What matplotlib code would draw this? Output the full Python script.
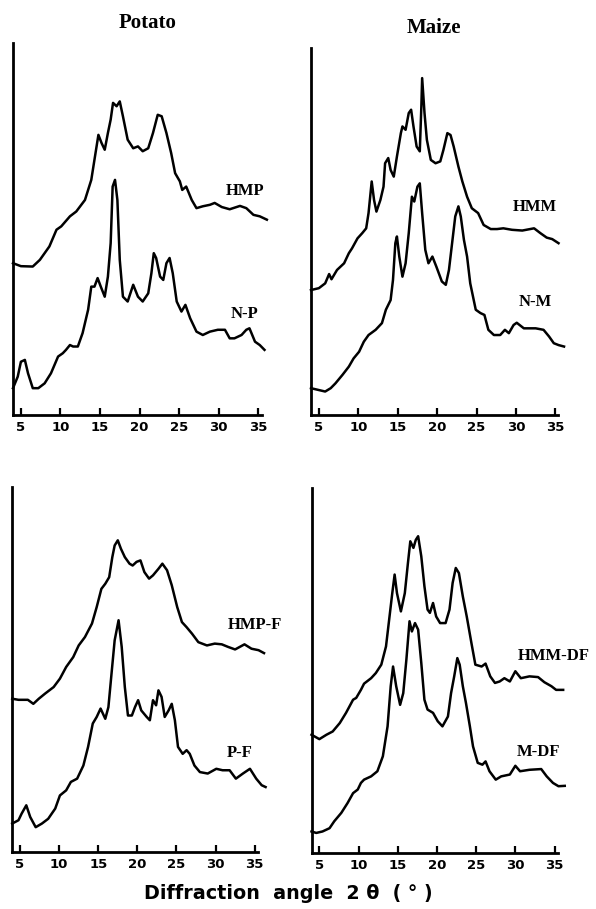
import matplotlib
matplotlib.use("Agg")
import matplotlib.pyplot as plt

# unghiul de difractie (2 theta) si intensitatea (unitati arbitrare) citite de pe difractograme

# Potato - sus
hmp_x = [4.0, 5.0, 6.5, 7.4, 8.6, 9.5, 10.1, 11.2, 12.0, 13.1, 13.9, 14.3, 14.8, 15.2, 15.6, 16.0, 16.35, 16.65,
         17.1, 17.5, 17.9, 18.5, 19.2, 19.8, 20.4, 21.1, 21.7, 22.3, 22.8, 23.4, 24.0, 24.5, 25.1, 25.4, 25.9, 26.6,
         27.2, 28.0, 28.9, 29.5, 30.4, 31.4, 32.7, 33.5, 34.4, 35.2, 36.1]
hmp_y = [40.8, 40.0, 39.9, 41.7, 45.3, 49.8, 50.7, 53.4, 54.7, 57.8, 63.2, 68.6, 75.3, 73.1, 71.3, 75.8, 79.4, 83.9,
         83.0, 84.3, 80.3, 74.0, 71.7, 72.2, 70.9, 71.7, 75.8, 80.7, 80.3, 75.8, 70.4, 65.0, 62.8, 60.5, 61.4, 57.8,
         55.6, 56.1, 56.5, 57.0, 55.9, 55.3, 56.2, 55.6, 53.8, 53.4, 52.5]

np_x = [4.0, 4.6, 5.0, 5.5, 5.9, 6.5, 7.2, 8.0, 8.8, 9.7, 10.3, 10.7, 11.2, 11.6, 12.2, 12.8, 13.5, 13.9, 14.3, 14.7,
        15.1, 15.6, 16.0, 16.35, 16.6, 16.9, 17.2, 17.5, 17.9, 18.5, 19.2, 19.8, 20.4, 21.1, 21.5, 21.8, 22.1, 22.6,
        23.0, 23.4, 23.8, 24.2, 24.7, 25.3, 25.8, 26.4, 27.2, 28.0, 28.9, 29.9, 30.8, 31.4, 32.0, 32.9, 33.5, 33.9,
        34.6, 35.2, 35.8]
np_y = [7.2, 10.3, 14.3, 14.8, 11.2, 7.2, 7.2, 8.5, 11.2, 15.7, 16.6, 17.5, 18.8, 18.4, 18.4, 22.0, 28.3, 34.5, 34.5,
        36.8, 34.5, 31.8, 37.2, 46.2, 61.4, 63.2, 57.8, 41.7, 31.8, 30.5, 35.0, 31.8, 30.5, 32.7, 38.1, 43.5, 42.2,
        37.2, 36.3, 40.8, 42.2, 38.1, 30.5, 27.8, 29.6, 26.0, 22.4, 21.5, 22.4, 22.9, 22.9, 20.6, 20.6, 21.5, 22.9,
        23.3, 19.7, 18.8, 17.5]

# Maize - sus
hmm_x = [4.0, 5.0, 5.8, 6.3, 6.6, 7.3, 8.2, 8.8, 9.2, 9.9, 10.5, 11.0, 11.3, 11.7, 12.0, 12.3, 12.8, 13.2, 13.4, 13.8,
         14.1, 14.5, 14.9, 15.4, 15.6, 16.0, 16.4, 16.7, 17.0, 17.4, 17.8, 18.0, 18.1, 18.4, 18.7, 19.2, 19.8, 20.4,
         20.8, 21.3, 21.7, 22.1, 22.7, 23.2, 23.8, 24.4, 25.2, 25.9, 26.8, 27.6, 28.4, 29.5, 30.8, 32.3, 33.1, 33.9,
         34.6, 35.4]
hmm_y = [33.6, 34.1, 35.4, 37.9, 36.5, 39.0, 40.8, 43.5, 44.8, 47.5, 48.9, 50.2, 54.3, 62.8, 57.8, 54.7, 57.8, 61.4,
         67.7, 69.1, 65.9, 64.1, 69.5, 75.8, 77.6, 76.7, 81.2, 82.1, 77.6, 72.2, 70.9, 83.0, 90.6, 81.2, 74.0, 68.6,
         67.7, 68.2, 71.3, 75.8, 75.3, 72.2, 66.8, 62.8, 58.7, 55.6, 54.3, 51.1, 50.0, 50.0, 50.2, 49.8, 49.6, 50.2,
         48.9, 47.7, 47.3, 46.2]

nm_x = [4.0, 5.0, 5.8, 6.5, 7.1, 8.0, 8.8, 9.4, 10.1, 10.7, 11.3, 12.2, 13.0, 13.5, 14.1, 14.4, 14.7, 14.9, 15.2, 15.6,
        16.0, 16.4, 16.8, 17.1, 17.5, 17.8, 18.1, 18.5, 18.9, 19.4, 19.9, 20.6, 21.1, 21.5, 21.9, 22.3, 22.7, 23.0,
        23.4, 23.8, 24.2, 24.9, 25.5, 26.0, 26.5, 27.2, 28.0, 28.6, 29.1, 29.7, 30.1, 31.0, 31.8, 32.5, 33.5, 34.2,
        34.8, 35.4, 36.1]
nm_y = [7.2, 6.7, 6.3, 7.2, 8.5, 10.8, 13.0, 15.2, 17.0, 19.7, 21.5, 22.9, 24.7, 28.3, 30.9, 36.3, 46.2, 48.0, 42.6,
        37.2, 40.8, 48.9, 58.7, 57.4, 61.4, 62.3, 54.3, 44.4, 40.8, 42.6, 39.9, 35.9, 35.0, 39.0, 46.2, 53.4, 56.1,
        53.4, 47.1, 42.6, 35.4, 28.3, 27.4, 26.9, 22.9, 21.5, 21.5, 22.9, 22.0, 24.2, 24.8, 23.3, 23.3, 23.3, 22.9,
        21.1, 19.3, 18.8, 18.4]

# Potato - jos
hmpf_x = [4.0, 4.8, 6.0, 6.7, 7.4, 8.2, 9.3, 10.1, 10.9, 11.8, 12.5, 13.3, 14.2, 14.8, 15.4, 15.9, 16.4, 16.8, 17.1,
          17.5, 17.9, 18.4, 19.0, 19.4, 19.9, 20.4, 20.9, 21.5, 22.0, 22.7, 23.2, 23.8, 24.4, 25.1, 25.7, 26.3, 27.0,
          27.8, 28.9, 29.9, 30.8, 31.6, 32.5, 33.7, 34.6, 35.5, 36.2]
hmpf_y = [42.0, 41.7, 41.7, 40.6, 42.0, 43.4, 45.2, 47.5, 50.7, 53.4, 56.6, 58.9, 62.6, 67.1, 72.1, 73.5, 75.3, 80.8,
          84.0, 85.4, 83.1, 80.8, 79.0, 78.5, 79.5, 79.9, 76.7, 74.9, 75.8, 77.6, 79.0, 77.2, 73.1, 67.1, 63.0, 61.6,
          59.8, 57.5, 56.6, 57.1, 56.9, 56.2, 55.5, 56.9, 55.7, 55.3, 54.5]

pf_x = [4.0, 4.8, 5.2, 5.8, 6.3, 7.0, 7.8, 8.6, 9.5, 10.1, 10.9, 11.5, 12.3, 13.1, 13.7, 14.3, 14.8, 15.3, 15.9, 16.3,
        16.7, 17.1, 17.6, 18.0, 18.4, 18.8, 19.3, 19.7, 20.1, 20.5, 21.2, 21.6, 22.0, 22.4, 22.7, 23.1, 23.5, 24.0,
        24.4, 24.8, 25.2, 25.8, 26.3, 26.7, 27.3, 28.0, 29.0, 30.1, 30.9, 31.8, 32.6, 33.5, 34.4, 35.2, 35.9, 36.4]
pf_y = [7.8, 8.7, 10.5, 12.8, 9.6, 6.8, 7.8, 9.1, 11.9, 15.5, 16.9, 19.2, 20.1, 23.7, 28.8, 35.2, 37.0, 39.3, 36.5,
        39.7, 48.9, 58.0, 63.5, 56.2, 45.2, 37.4, 37.4, 39.7, 41.6, 38.8, 37.0, 36.1, 41.6, 40.2, 44.3, 42.5, 37.0,
        38.8, 40.6, 36.1, 28.8, 26.9, 27.9, 26.9, 23.7, 21.9, 21.5, 22.8, 22.4, 22.4, 20.1, 21.5, 22.8, 20.1, 18.3,
        17.8]

# Maize - jos
hmmdf_x = [4.0, 5.0, 5.9, 6.7, 7.6, 8.4, 9.3, 9.7, 10.3, 10.7, 11.6, 12.2, 12.9, 13.5, 13.9, 14.3, 14.6, 14.9, 15.4,
           15.9, 16.3, 16.6, 17.0, 17.3, 17.6, 18.0, 18.4, 18.8, 19.1, 19.5, 19.9, 20.4, 21.1, 21.6, 22.0, 22.4, 22.8,
           23.3, 23.8, 24.4, 24.9, 25.7, 26.2, 26.8, 27.4, 28.0, 28.6, 29.3, 30.0, 30.7, 31.8, 32.9, 33.7, 34.6, 35.2,
           36.1]
hmmdf_y = [32.4, 31.2, 32.4, 33.3, 35.6, 38.4, 42.0, 42.5, 44.7, 46.4, 47.9, 49.3, 51.6, 56.6, 63.9, 71.2, 76.3, 71.2,
           66.2, 71.2, 79.5, 85.4, 83.6, 85.8, 86.8, 81.3, 73.1, 66.7, 65.8, 68.5, 64.8, 63.0, 63.0, 66.7, 74.0, 78.1,
           76.7, 70.3, 64.8, 57.5, 51.6, 51.1, 51.9, 48.4, 46.6, 47.0, 47.9, 47.0, 49.8, 47.9, 48.4, 48.2, 46.8, 45.7,
           44.7, 44.7]

mdf_x = [4.0, 4.6, 5.4, 6.3, 6.9, 7.8, 8.6, 9.3, 9.9, 10.3, 10.7, 11.6, 12.4, 13.1, 13.7, 14.1, 14.4, 14.8, 15.3, 15.7,
         16.1, 16.5, 16.8, 17.2, 17.6, 18.0, 18.4, 18.8, 19.5, 20.1, 20.7, 21.4, 21.8, 22.2, 22.6, 22.9, 23.3, 23.7,
         24.2, 24.6, 25.2, 25.8, 26.2, 26.7, 27.5, 28.2, 29.3, 30.0, 30.6, 31.8, 33.3, 34.0, 34.8, 35.5, 36.3]
mdf_y = [5.9, 5.5, 5.9, 6.8, 8.7, 11.0, 13.7, 16.4, 17.4, 19.2, 20.1, 21.0, 22.4, 26.5, 34.7, 45.7, 51.1, 45.7, 40.6,
         43.8, 53.0, 63.5, 60.7, 63.0, 61.2, 52.1, 42.0, 39.3, 38.4, 36.1, 34.7, 37.4, 43.8, 48.4, 53.4, 51.6, 45.7,
         41.1, 34.7, 29.2, 24.7, 24.2, 25.1, 22.4, 20.1, 21.0, 21.5, 23.9, 22.4, 22.8, 23.0, 21.0, 19.2, 18.3, 18.4]

ticks = [5, 10, 15, 20, 25, 30, 35]

fig = plt.figure(figsize=(5.96, 9.09), dpi=100)

serif = "Liberation Serif"
sans = "DejaVu Sans"

# pozitia fiecarui panou: [stanga, jos, latime, inaltime], limita x, limita y
panouri = [
    ([0.0218, 0.5435, 0.418, 0.4092], 35.5, 100.0,
     [(hmp_x, hmp_y, "HMP", 33.3, 60.1), (np_x, np_y, "N-P", 33.3, 27.1)]),
    ([0.5218, 0.5435, 0.414, 0.4037], 35.3, 98.7,
     [(hmm_x, hmm_y, "HMM", 32.4, 55.9), (nm_x, nm_y, "N-M", 32.4, 30.5)]),
    ([0.0205, 0.0627, 0.412, 0.4015], 35.4, 100.0,
     [(hmpf_x, hmpf_y, "HMP-F", 35.0, 62.1), (pf_x, pf_y, "P-F", 33.1, 27.1)]),
    ([0.5227, 0.0616, 0.413, 0.4015], 35.4, 100.0,
     [(hmmdf_x, hmmdf_y, "HMM-DF", 34.9, 53.9), (mdf_x, mdf_y, "M-DF", 33.0, 27.6)]),
]

for poz, xmax, ymax, curbe in panouri:
    ax = fig.add_axes(poz)
    for x, y, eticheta, tx, ty in curbe:
        ax.plot(x, y, color="black", lw=1.8, clip_on=False, solid_joinstyle="round")
        ax.text(tx, ty, eticheta, family=serif, fontweight="bold", fontsize=12,
                ha="center", va="center")
    ax.set_xlim(4, xmax)
    ax.set_ylim(0, ymax)
    ax.spines["top"].set_visible(False)
    ax.spines["right"].set_visible(False)
    ax.spines["left"].set_linewidth(2.0)
    ax.spines["bottom"].set_linewidth(2.0)
    ax.set_yticks([])
    ax.set_xticks(ticks)
    ax.set_xticklabels([str(t) for t in ticks], family=sans, fontweight="bold", fontsize=9.5)
    ax.tick_params(axis="x", direction="in", length=5, width=1.6, pad=4)
    ax.set_facecolor("none")

fig.text(0.248, 0.9747, "Potato", family=serif, fontweight="bold", fontsize=15, ha="center", va="center")
fig.text(0.728, 0.969, "Maize", family=serif, fontweight="bold", fontsize=15, ha="center", va="center")
fig.text(0.483, 0.0176, "Diffraction  angle  2 θ  ( ° )", family=sans, fontweight="bold",
         fontsize=13.8, ha="center", va="center")

fig.savefig("out.png", dpi=100)
